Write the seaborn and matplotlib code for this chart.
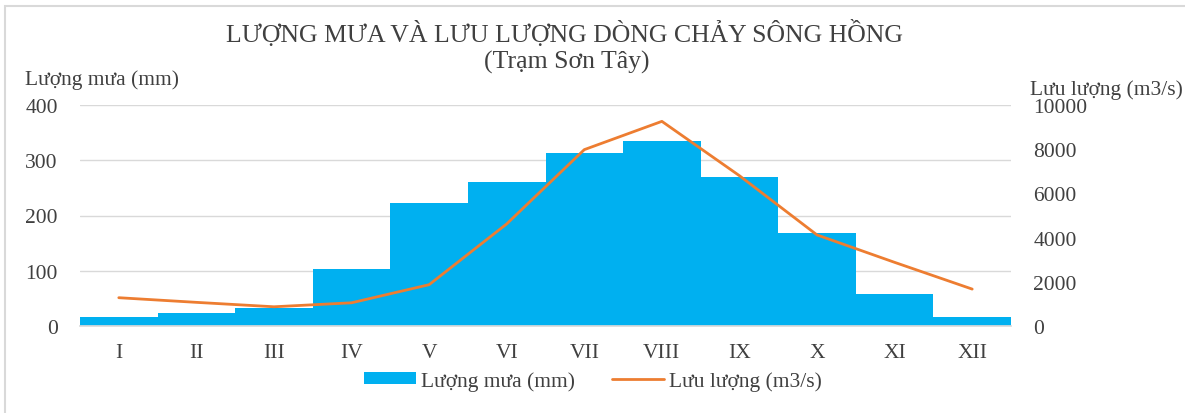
import pandas as pd
import matplotlib.pyplot as plt
import seaborn as sns
from matplotlib.patches import Rectangle

# Daten (Trạm Sơn Tây)
thang = ["I", "II", "III", "IV", "V", "VI", "VII", "VIII", "IX", "X", "XI", "XII"]
luong_mua = [17, 24, 33, 103, 222, 261, 314, 335, 270, 168, 58, 16]
luu_luong = [1280, 1070, 870, 1050, 1870, 4620, 7980, 9260, 6800, 4120, 2880, 1670]

df = pd.DataFrame({"thang": thang, "mua": luong_mua, "luuluong": luu_luong})

sns.set_theme(style="white")
plt.rcParams["font.family"] = ["Liberation Serif", "DejaVu Serif"]

fig = plt.figure(figsize=(11.85, 4.14), dpi=100)
ax = fig.add_axes([80/1185, 1-327/414, (1011-80)/1185, (327-106)/414])

sns.barplot(data=df, x="thang", y="mua", color="#00B0F0", width=1.0,
            saturation=1, linewidth=0, ax=ax, label="Lượng mưa (mm)")
ax.set_xlim(-0.5, 11.5)
ax.set_ylim(0, 400)
ax.set_yticks([0, 100, 200, 300, 400])
ax.yaxis.grid(True, color="#D9D9D9", linewidth=1)
ax.set_axisbelow(True)
ax.set_xlabel("")
ax.set_ylabel("")
for s in ["left", "right", "top"]:
    ax.spines[s].set_visible(False)
ax.spines["bottom"].set_color("#D9D9D9")
ax.tick_params(axis="both", labelsize=15.5, colors="#404040", length=0)
ax.tick_params(axis="y", pad=16)
ax.tick_params(axis="x", pad=12)

ax2 = ax.twinx()
sns.lineplot(data=df, x="thang", y="luuluong", color="#ED7D31", linewidth=2,
             ax=ax2, label="Lưu lượng (m3/s)", sort=False)
ax2.set_ylim(0, 10000)
ax2.set_yticks([0, 2000, 4000, 6000, 8000, 10000])
ax2.set_ylabel("")
for s in ["left", "right", "top", "bottom"]:
    ax2.spines[s].set_visible(False)
ax2.tick_params(axis="y", labelsize=15.5, colors="#404040", length=0, pad=16)

# Legende unten
h1, l1 = ax.get_legend_handles_labels()
h2, l2 = ax2.get_legend_handles_labels()
if ax.get_legend() is not None:
    ax.get_legend().remove()
if ax2.get_legend() is not None:
    ax2.get_legend().remove()
fig.legend(h1 + h2, l1 + l2, loc="center", bbox_to_anchor=(593/1185, 1-382/414),
           ncol=2, frameon=False, fontsize=15.5, handlelength=2.4, handleheight=0.5,
           columnspacing=1.7, handletextpad=0.25, labelcolor="#404040")

fig.text(565/1185, 1-33/414, "LƯỢNG MƯA VÀ LƯU LƯỢNG DÒNG CHẢY SÔNG HỒNG",
         ha="center", va="center", fontsize=18.5, color="#404040")
fig.text(567/1185, 1-62/414, "(Trạm Sơn Tây)", ha="center", va="center",
         fontsize=18.5, color="#404040")
fig.text(25/1185, 1-80/414, "Lượng mưa (mm)", ha="left", va="center",
         fontsize=15.5, color="#404040")
fig.text(1030/1185, 1-90/414, "Lưu lượng (m3/s)", ha="left", va="center",
         fontsize=15.5, color="#404040")

# Rahmen
fig.patches.append(Rectangle((5/1185, -0.1), 1.2, 1 - 7/414 + 0.1,
                             transform=fig.transFigure, fill=False,
                             edgecolor="#D9D9D9", linewidth=1.5))

fig.savefig("out.png", dpi=100)
